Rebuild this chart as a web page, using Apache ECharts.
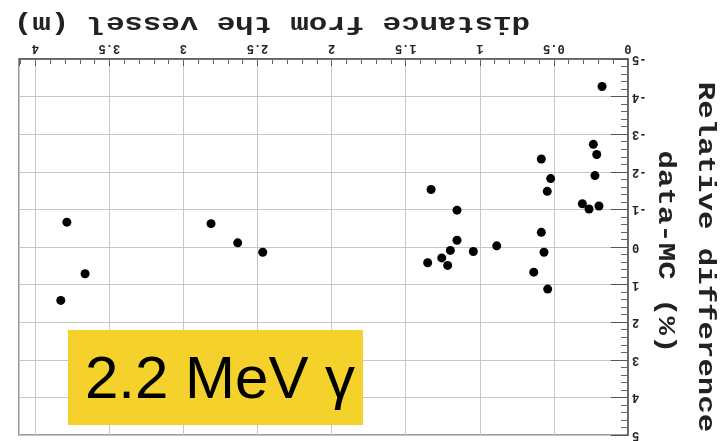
<!DOCTYPE html>
<html>
<head>
<meta charset="utf-8">
<script src="https://cdn.jsdelivr.net/npm/echarts@6/dist/echarts.min.js"></script>
<style>
  html, body { margin: 0; padding: 0; background: #ffffff; }
  #wrap { position: relative; width: 725px; height: 441px; overflow: hidden; }
  #chart, #tag { position: absolute; left: 0; top: 0; width: 725px; height: 441px; }
  /* the scanned plot is soft; the energy tag on top of it stays sharp */
  #chart { filter: blur(0.55px); }
</style>
</head>
<body>
<div id="wrap">
  <div id="chart"></div>
  <div id="tag"></div>
</div>
<script>
// Distance of each measurement point from the vessel, in metres
const distance = [
  0.175, 0.234, 0.211, 0.223, 0.308, 0.263, 0.196,
  0.585, 0.522, 0.545, 0.585, 0.567, 0.636, 0.542,
  1.329, 1.154, 1.154, 1.199, 1.257, 1.217, 1.352, 1.044, 0.886,
  2.814, 2.634, 2.465,
  3.787, 3.664, 3.828
];
// Relative difference between data and MC, in percent
const relDiff = [
  -4.27, -2.73, -2.46, -1.90, -1.15, -1.01, -1.09,
  -2.34, -1.82, -1.48, -0.39, 0.14, 0.67, 1.12,
  -1.53, -0.98, -0.18, 0.09, 0.29, 0.49, 0.42, 0.12, -0.03,
  -0.62, -0.11, 0.14,
  -0.66, 0.71, 1.42
];

// Axis ranges and labelled tick values
const xRange = [0, 4.11];
const yRange = [-5, 5];
const xTickLabels = [0, 0.5, 1, 1.5, 2, 2.5, 3, 3.5, 4];
const yTickLabels = [-5, -4, -3, -2, -1, 0, 1, 2, 3, 4, 5];

const xTitle = 'distance from the vessel (m)';
const yTitle = ['Relative difference', 'data-MC (%)'];
const tagText = '2.2 MeV \u03b3';

const mono = '"Liberation Mono", "DejaVu Sans Mono", monospace';
const ink = '#222222';
const gridGrey = '#c6c6c6';

function onTick(list, v) {
  return list.some(t => Math.abs(t - v) < 1e-6);
}

const chart = echarts.init(document.getElementById('chart'));

chart.setOption({
  animation: false,
  backgroundColor: '#ffffff',
  grid: {
    left: 19, right: 97, top: 59, bottom: -3,
    show: true, borderColor: '#7a7a7a', borderWidth: 1.5,
    containLabel: false
  },
  xAxis: [
    {
      type: 'value', position: 'top', inverse: true,
      min: xRange[0], max: xRange[1], interval: 0.5,
      axisLine: { show: true, onZero: false, lineStyle: { color: '#555', width: 1.5 } },
      axisTick: { show: true, inside: true, length: 7, lineStyle: { color: '#555', width: 1 } },
      splitLine: { show: true, lineStyle: { color: gridGrey, width: 1 } },
      axisLabel: {
        rotate: 180, margin: 5,
        fontFamily: mono, fontSize: 12, fontWeight: 'bold', color: ink,
        formatter: v => onTick(xTickLabels, v) ? String(v) : ''
      }
    },
    {
      // fine 0.1 m ticks along the top edge
      type: 'value', position: 'top', inverse: true,
      min: xRange[0], max: xRange[1], interval: 0.1,
      axisLine: { show: false, onZero: false },
      axisTick: { show: true, inside: true, length: 5, lineStyle: { color: '#666', width: 1 } },
      splitLine: { show: false },
      axisLabel: { show: false }
    }
  ],
  yAxis: {
    type: 'value', position: 'right', inverse: true,
    min: yRange[0], max: yRange[1], interval: 1,
    axisLine: { show: true, onZero: false, lineStyle: { color: '#555', width: 1.5 } },
    axisTick: { show: true, inside: true, length: 17, lineStyle: { color: '#555', width: 1 } },
    minorTick: { show: true, splitNumber: 5, length: 7, lineStyle: { color: '#666', width: 1 } },
    splitLine: { show: true, lineStyle: { color: gridGrey, width: 1 } },
    axisLabel: {
      rotate: 180, margin: 4,
      fontFamily: mono, fontSize: 12, fontWeight: 'bold', color: ink,
      formatter: v => onTick(yTickLabels, v) ? String(v) : ''
    }
  },
  series: [{
    type: 'scatter',
    xAxisIndex: 0, yAxisIndex: 0,
    symbol: 'circle', symbolSize: 9,
    itemStyle: { color: '#000000', opacity: 1 },
    data: distance.map((d, i) => [d, relDiff[i]])
  }],
  graphic: [
    {
      type: 'text', x: 272, y: 23, rotation: Math.PI, scaleX: 1.28,
      style: { text: xTitle, font: 'bold 24px ' + mono, fill: ink, align: 'center', verticalAlign: 'middle' }
    },
    {
      type: 'text', x: 705, y: 257, rotation: -Math.PI / 2, scaleX: 1.28,
      style: { text: yTitle[0], font: 'bold 24px ' + mono, fill: ink, align: 'center', verticalAlign: 'middle' }
    },
    {
      type: 'text', x: 665, y: 252, rotation: -Math.PI / 2, scaleX: 1.28,
      style: { text: yTitle[1], font: 'bold 24px ' + mono, fill: ink, align: 'center', verticalAlign: 'middle' }
    }
  ]
});

// Energy tag drawn in its own transparent layer above the plot
const tag = echarts.init(document.getElementById('tag'));
tag.setOption({
  animation: false,
  backgroundColor: 'transparent',
  graphic: [
    {
      type: 'rect',
      shape: { x: 68, y: 330, width: 295, height: 95 },
      style: { fill: '#f4d12b' }
    },
    {
      type: 'text', x: 85, y: 381,
      style: { text: tagText, font: '60px "Liberation Sans", Arial, sans-serif', fill: '#000', align: 'left', verticalAlign: 'middle' }
    }
  ]
});
</script>
</body>
</html>
